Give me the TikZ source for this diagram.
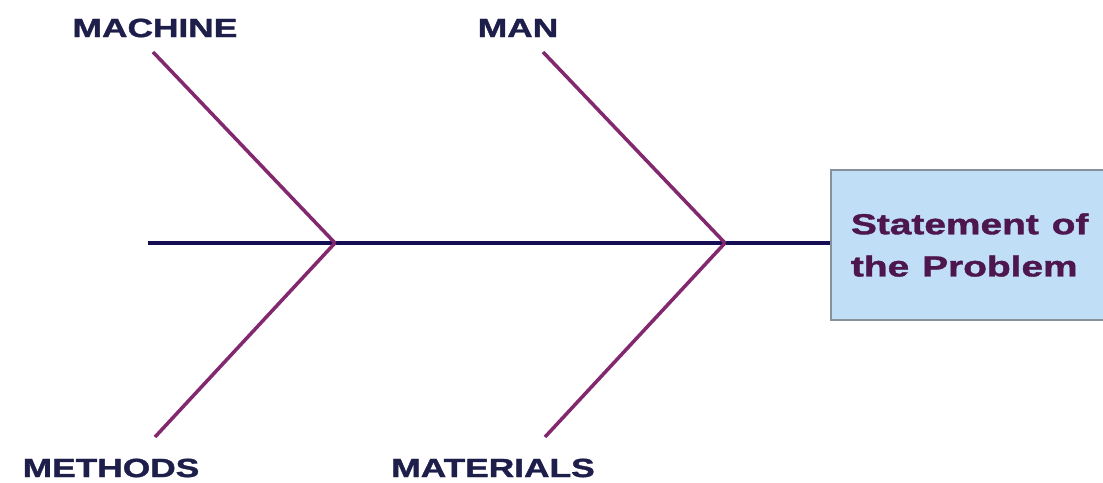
\documentclass[tikz,border=0pt]{standalone}
\usepackage{fontspec}
\usepackage{graphicx}
\setmainfont{Liberation Sans}
\newfontfamily\heavyfont{Liberation Sans Bold}[FakeBold=1.2]
\usepackage{tikz}
\usetikzlibrary{positioning}
\definecolor{boneclr}{RGB}{130,40,110}
\definecolor{spineclr}{RGB}{22,14,82}
\definecolor{lblclr}{RGB}{30,30,75}
\definecolor{headclr}{RGB}{78,22,78}
\definecolor{boxfill}{RGB}{192,222,245}
\definecolor{boxline}{RGB}{135,145,155}
\tikzset{
  cause/.style={font=\fontsize{15}{17}\heavyfont,text=lblclr,inner sep=0pt},
  bone/.style={draw=boneclr,line width=2pt},
  spine/.style={draw=spineclr,line width=2pt},
}
\newcommand{\wide}[1]{\scalebox{1.34}[1]{#1}}

\begin{document}
\begin{tikzpicture}[
    headbox/.style={draw=boxline, line width=1.1pt, fill=boxfill, anchor=west,
                    minimum height=3cm, text width=4.9cm, inner xsep=0.4cm,
                    align=left, text=headclr,
                    font=\fontsize{16.5}{24}\heavyfont}
  ]
\useasboundingbox (0,0) rectangle (22.06,9.64);
\node[headbox] (stmt) at (16.60,4.74) {\wide{Statement of}\\\wide{the Problem}};

\coordinate (tail) at (2.96,4.78);
\coordinate (j1) at (6.70,4.78);
\coordinate (j2) at (14.50,4.78);
\coordinate (machtop) at (3.06,8.60);
\coordinate (mantop) at (10.86,8.60);
\coordinate (methbot) at (3.10,0.90);
\coordinate (matbot) at (10.90,0.90);

\draw[spine] (tail) -- (tail -| stmt.west);

\draw[bone] (machtop) -- (j1);
\draw[bone] (methbot) -- (j1);
\draw[bone] (mantop) -- (j2);
\draw[bone] (matbot) -- (j2);

\node[cause] (machine) at (3.10,9.08) {\wide{MACHINE}};
\node[cause] (man) at (10.36,9.08) {\wide{MAN}};
\node[cause] (methods) at (2.22,0.28) {\wide{METHODS}};
\node[cause] (materials) at (9.86,0.28) {\wide{MATERIALS}};
\end{tikzpicture}
\end{document}
